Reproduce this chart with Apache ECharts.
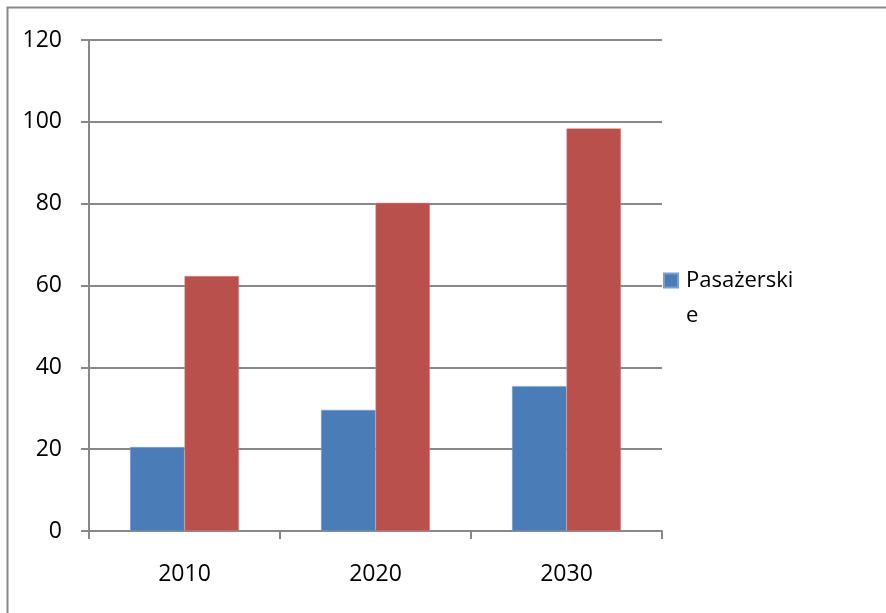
<!DOCTYPE html>
<html>
<head>
<meta charset="utf-8">
<script src="https://cdn.jsdelivr.net/npm/echarts@6/dist/echarts.min.js"></script>
<style>
  html, body { margin: 0; padding: 0; background: #fff; }
  #chart { width: 886px; height: 613px; }
</style>
</head>
<body>
<div id="chart"></div>
<script>
// chart data
const years = ['2010', '2020', '2030']
const pasazerskie = [20.5, 29.6, 35.4]
const towarowe = [62.3, 80.2, 98.4]
const yTicks = { min: 0, max: 120, step: 20 }

const gray = '#888888'
const font = 'Open Sans'
const fs = 23

const chart = echarts.init(document.getElementById('chart'))
chart.setOption({
  animation: false,
  textStyle: { fontFamily: font, fontSize: fs, color: '#000' },
  // outer frame, only top and left edges show in the picture
  graphic: [{
    type: 'rect',
    shape: { x: 7.5, y: 7.5, width: 1000, height: 1000 },
    style: { fill: 'none', stroke: gray, lineWidth: 2 },
    silent: true
  }],
  grid: { left: 89, right: 224, top: 40, bottom: 82 },
  legend: {
    orient: 'vertical',
    left: 663,
    top: 228,
    padding: 0,
    itemWidth: 14,
    itemHeight: 14,
    icon: 'rect',
    data: ['Pasażerskie'],
    // word-style wrap; empty first line keeps the icon level with "Pasażerski"
    formatter: () => '\nPasażerski\ne',
    textStyle: {
      fontFamily: font,
      fontSize: 22,
      color: '#000',
      lineHeight: 35,
      padding: [0, 0, 0, 3]
    }
  },
  xAxis: {
    type: 'category',
    data: years,
    axisLine: { lineStyle: { color: gray, width: 2 } },
    axisTick: { show: true, length: 8, lineStyle: { color: gray, width: 2 } },
    axisLabel: { margin: 32, fontFamily: font, fontSize: fs, color: '#000' }
  },
  yAxis: {
    type: 'value',
    min: yTicks.min,
    max: yTicks.max,
    interval: yTicks.step,
    axisLine: { show: true, lineStyle: { color: gray, width: 2 } },
    axisTick: { show: true, length: 8, lineStyle: { color: gray, width: 2 } },
    axisLabel: { margin: 27, fontFamily: font, fontSize: fs, color: '#000' },
    splitLine: { lineStyle: { color: gray, width: 2 } }
  },
  series: [
    {
      name: 'Pasażerskie',
      type: 'bar',
      data: pasazerskie,
      barWidth: '28.5%',
      barGap: '0%',
      itemStyle: { color: '#4a7db7', borderColor: '#7a9fcc', borderWidth: 0.5 }
    },
    {
      name: 'Towarowe',
      type: 'bar',
      data: towarowe,
      barWidth: '28.5%',
      barGap: '0%',
      itemStyle: { color: '#b9504c', borderColor: '#d98a88', borderWidth: 0.5 }
    }
  ]
})
</script>
</body>
</html>
